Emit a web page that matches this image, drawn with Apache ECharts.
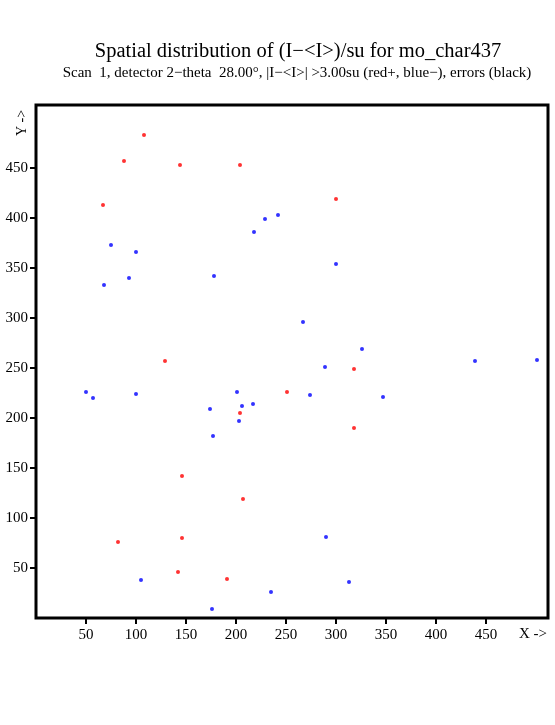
<!DOCTYPE html>
<html>
<head>
<meta charset="utf-8">
<script src="https://cdn.jsdelivr.net/npm/echarts@6/dist/echarts.min.js"></script>
<style>html,body{margin:0;padding:0;background:#fff}#c{width:555px;height:725px}</style>
</head>
<body>
<div id="c"></div>
<script>
const titleText = 'Spatial distribution of (I\u2212<I>)/su for mo_char437';
const subtitleText = 'Scan  1, detector 2\u2212theta  28.00\u00b0, |I\u2212<I>| >3.00su (red+, blue\u2212), errors (black)';
const xTicks = [50, 100, 150, 200, 250, 300, 350, 400, 450];
const yTicks = [50, 100, 150, 200, 250, 300, 350, 400, 450];
const redX = [108, 88, 144, 204, 67, 129, 300, 204, 146, 207, 82, 146, 142, 191, 318, 251, 318];
const redY = [483, 457, 453, 453, 413, 257, 419, 205, 142, 119, 76, 80, 46, 39, 249, 226, 190];
const blueX = [75, 100, 93, 68, 178, 218, 229, 242, 300, 267, 326, 439, 501, 50, 57, 100, 174, 201, 206, 217, 203, 177, 105, 176, 235, 289, 274, 347, 290, 313];
const blueY = [373, 366, 340, 333, 342, 386, 399, 403, 354, 296, 269, 257, 258, 226, 220, 224, 209, 226, 212, 214, 197, 182, 38, 9, 26, 251, 223, 221, 81, 36];

const zip = (a, b) => a.map((v, i) => [v, b[i]]);
const font = 'Liberation Serif';
const chart = echarts.init(document.getElementById('c'));
chart.setOption({
  animation: false,
  backgroundColor: '#fff',
  textStyle: { fontFamily: font },
  grid: { left: 36, top: 105, width: 512, height: 513, show: true, borderColor: '#000', borderWidth: 3, backgroundColor: 'transparent' },
  xAxis: {
    type: 'value', min: 0, max: 512,
    axisLine: { show: false },
    splitLine: { show: false },
    axisTick: { show: true, inside: false, length: 6, lineStyle: { color: '#000', width: 2 }, customValues: xTicks },
    axisLabel: { color: '#000', fontSize: 15, fontFamily: font, margin: 10, customValues: xTicks }
  },
  yAxis: {
    type: 'value', min: 0, max: 513,
    axisLine: { show: false },
    splitLine: { show: false },
    axisTick: { show: true, inside: false, length: 6, lineStyle: { color: '#000', width: 2 }, customValues: yTicks },
    axisLabel: { color: '#000', fontSize: 15, fontFamily: font, margin: 8, customValues: yTicks }
  },
  graphic: [
    { type: 'text', x: 298, y: 41, style: { text: titleText, textAlign: 'center', font: '20.5px "Liberation Serif"', fill: '#000' } },
    { type: 'text', x: 297, y: 66, style: { text: subtitleText, textAlign: 'center', font: '15px "Liberation Serif"', fill: '#000' } },
    { type: 'text', left: 519, top: 627, style: { text: 'X ->', font: '15px "Liberation Serif"', fill: '#000' } },
    { type: 'text', x: 15, y: 136, rotation: Math.PI / 2, style: { text: 'Y ->', font: '14px "Liberation Serif"', fill: '#000' } }
  ],
  series: [
    { type: 'scatter', data: zip(redX, redY), symbol: 'circle', symbolSize: 4, itemStyle: { color: '#ff0000' } },
    { type: 'scatter', data: zip(blueX, blueY), symbol: 'circle', symbolSize: 4, itemStyle: { color: '#0000ff' } }
  ]
});
</script>
</body>
</html>
